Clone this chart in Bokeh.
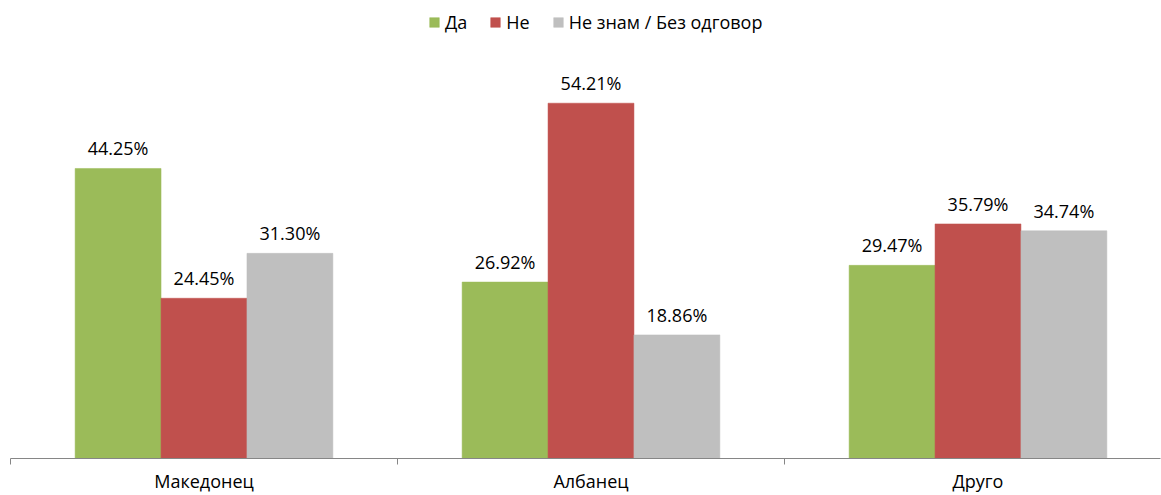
from bokeh.plotting import figure
from bokeh.models import ColumnDataSource, FixedTicker, Range1d, Legend, LegendItem
from bokeh.core.properties import value
from bokeh.embed import file_html
from bokeh.resources import INLINE

categories = ["Македонец", "Албанец", "Друго"]
series_names = ["Да", "Не", "Не знам / Без одговор"]
da = [44.25, 26.92, 29.47]
ne = [24.45, 54.21, 35.79]
ne_znam = [31.30, 18.86, 34.74]
colors = ["#9BBB59", "#C0504D", "#BFBFBF"]

FONT = "Open Sans"
BAR_W = 0.222
offsets = [-BAR_W, 0.0, BAR_W]

p = figure(width=1161, height=495, output_backend="svg", toolbar_location=None,
           x_range=Range1d(-0.5, 2.4716), y_range=Range1d(0, 69.88),
           min_border_left=10, min_border_right=1, min_border_top=0, min_border_bottom=37)

renderers = []
for vals, off, col in zip([da, ne, ne_znam], offsets, colors):
    xs = [i + off for i in range(len(categories))]
    src = ColumnDataSource(dict(x=xs, top=vals, lbl=[f"{v:.2f}%" for v in vals]))
    r = p.vbar(x="x", top="top", width=BAR_W, source=src, fill_color=col, line_color=col, line_width=0.5)
    renderers.append(r)
    p.text(x="x", y="top", text="lbl", source=src, text_align="center", text_baseline="bottom",
           y_offset=-8, text_font=value(FONT), text_font_size="18px", text_color="#000000")

legend = Legend(items=[LegendItem(label=n, renderers=[r]) for n, r in zip(series_names, renderers)],
                orientation="horizontal", location=(418, 424), border_line_color=None,
                background_fill_alpha=0, padding=0, margin=0, spacing=22,
                glyph_width=12, glyph_height=12, label_standoff=5,
                label_text_font=FONT, label_text_font_size="18px", label_text_color="#000000")
p.add_layout(legend, "center")

p.xaxis.ticker = FixedTicker(ticks=[0, 1, 2], minor_ticks=[-0.5, 0.5, 1.5, 2.5])
p.xaxis.major_label_overrides = {0: categories[0], 1: categories[1], 2: categories[2]}
p.xaxis.major_tick_out = 0
p.xaxis.major_tick_in = 0
p.xaxis.minor_tick_out = 6
p.xaxis.minor_tick_in = 0
p.xaxis.major_label_standoff = 4
p.xaxis.axis_line_color = "#868686"
p.xaxis.minor_tick_line_color = "#868686"
p.xaxis.major_label_text_font = FONT
p.xaxis.major_label_text_font_size = "18px"
p.xaxis.major_label_text_color = "#000000"
p.yaxis.visible = False
p.xgrid.visible = False
p.ygrid.visible = False
p.outline_line_color = None

open("out.html", "w").write(file_html(p, INLINE))
